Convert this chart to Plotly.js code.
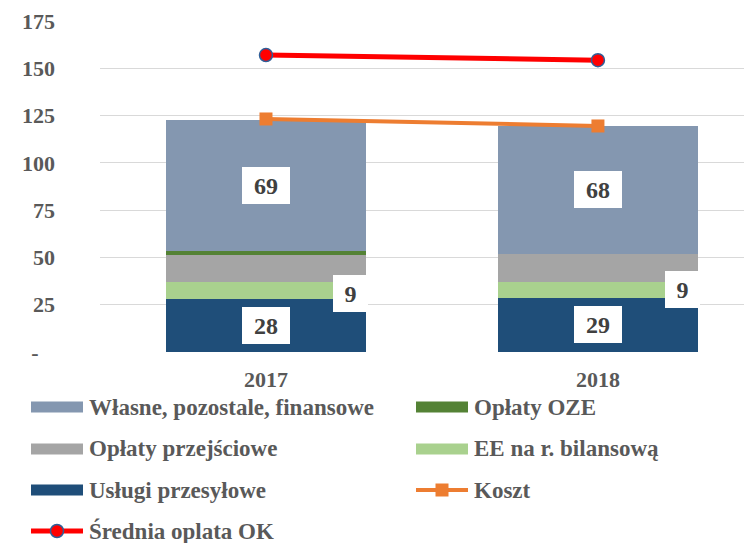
<!DOCTYPE html>
<html>
<head>
<meta charset="utf-8">
<script src="https://cdn.plot.ly/plotly-3.0.1.min.js"></script>
<style>html,body{margin:0;padding:0;background:#fff;}#chart{width:744px;height:543px;}</style>
</head>
<body>
<div id="chart"></div>
<script>
// ---- data ----
const categories = ['2017', '2018'];
const uslugiPrzesylowe = [27.8, 28.6];
const eeBilansowa = [9.0, 8.6];
const oplatyPrzejsciowe = [14.4, 14.6];
const oplatyOZE = [2.2, 0];
const wlasnePozostale = [69.4, 67.8];
const koszt = [123.2, 119.5];
const sredniaOplata = [157.0, 154.3];
const yTickVals = [0, 25, 50, 75, 100, 125, 150, 175];
const yTickText = ['-\u00a0\u00a0\u00a0', '25', '50', '75', '100', '125', '150', '175'];
const seriesNames = ['Własne, pozostale, finansowe', 'Opłaty OZE', 'Opłaty przejściowe',
  'EE na r. bilansową', 'Usługi przesyłowe', 'Koszt', 'Średnia oplata OK'];

// ---- styles ----
const FONT = '"Liberation Serif", "Times New Roman", serif';
const TXT = '#595959';
const C = {
  wlasne: '#8497b0', oze: '#548235', przej: '#a5a5a5', ee: '#a9d18e',
  uslugi: '#1f4e79', koszt: '#ed7d31', sred: '#ff0000', sredEdge: '#2e5f99'
};

const W = 744, H = 543;
const M = {l: 100, r: 0, t: 21, b: 191};
const plotW = W - M.l - M.r, plotH = H - M.t - M.b;
const px2x = p => (p - M.l) / plotW;
const py2y = p => (H - M.b - p) / plotH;

function bar(name, y, color) {
  return {type: 'bar', name: name, x: categories, y: y, marker: {color: color, line: {width: 0}},
    hoverinfo: 'skip', showlegend: false};
}

const traces = [
  bar(seriesNames[4], uslugiPrzesylowe, C.uslugi),
  bar(seriesNames[3], eeBilansowa, C.ee),
  bar(seriesNames[2], oplatyPrzejsciowe, C.przej),
  bar(seriesNames[1], oplatyOZE, C.oze),
  bar(seriesNames[0], wlasnePozostale, C.wlasne),
  {type: 'scatter', mode: 'lines+markers', name: seriesNames[5], x: categories, y: koszt,
    line: {color: C.koszt, width: 4}, marker: {symbol: 'square', size: 13, color: C.koszt},
    showlegend: false, hoverinfo: 'skip'},
  {type: 'scatter', mode: 'lines+markers', name: seriesNames[6], x: categories, y: sredniaOplata,
    line: {color: C.sred, width: 5}, marker: {symbol: 'circle', size: 13, color: C.sred,
    line: {color: C.sredEdge, width: 1.5}}, showlegend: false, hoverinfo: 'skip'}
];

// data labels (x given as category index)
const annotations = [];
const labelFont = {family: FONT, size: 24, color: '#404040'};
const boxStyle = {showarrow: false, bgcolor: '#ffffff', bordercolor: '#ffffff', borderwidth: 0, height: 35, font: labelFont};
categories.forEach((cat, i) => {
  const b1 = uslugiPrzesylowe[i];
  const b2 = b1 + eeBilansowa[i];
  const b4 = b2 + oplatyPrzejsciowe[i] + oplatyOZE[i];
  annotations.push(Object.assign({x: i, y: b1 / 2, width: 46,
    text: '<b>' + uslugiPrzesylowe[i].toFixed(0) + '</b>'}, boxStyle));
  annotations.push(Object.assign({x: i, y: b1 + eeBilansowa[i] / 2, width: 33, xshift: 85,
    yshift: i === 0 ? -3 : 0, text: '<b>' + eeBilansowa[i].toFixed(0) + '</b>'}, boxStyle));
  annotations.push(Object.assign({x: i, y: b4 + wlasnePozostale[i] / 2, width: 46,
    text: '<b>' + wlasnePozostale[i].toFixed(0) + '</b>'}, boxStyle));
});

// custom legend
const shapes = [];
const legendFont = {family: FONT, size: 23, color: TXT};
const legendItems = [
  {name: seriesNames[0], kind: 'bar', color: C.wlasne, col: 0, row: 0},
  {name: seriesNames[1], kind: 'bar', color: C.oze, col: 1, row: 0},
  {name: seriesNames[2], kind: 'bar', color: C.przej, col: 0, row: 1},
  {name: seriesNames[3], kind: 'bar', color: C.ee, col: 1, row: 1},
  {name: seriesNames[4], kind: 'bar', color: C.uslugi, col: 0, row: 2},
  {name: seriesNames[5], kind: 'koszt', color: C.koszt, col: 1, row: 2},
  {name: seriesNames[6], kind: 'sred', color: C.sred, col: 0, row: 3}
];
const colX = [31, 416];
const rowY = [407, 449, 490, 531];
const swW = 52;
legendItems.forEach(it => {
  const x0 = colX[it.col], yc = rowY[it.row];
  if (it.kind === 'bar') {
    shapes.push({type: 'rect', xref: 'paper', yref: 'paper', x0: px2x(x0), x1: px2x(x0 + swW),
      y0: py2y(yc + 5.5), y1: py2y(yc - 5.5), fillcolor: it.color, line: {width: 0}});
  } else {
    shapes.push({type: 'line', xref: 'paper', yref: 'paper', x0: px2x(x0), x1: px2x(x0 + swW),
      y0: py2y(yc), y1: py2y(yc), line: {color: it.color, width: it.kind === 'sred' ? 5 : 4}});
    const cx = x0 + swW / 2;
    if (it.kind === 'koszt') {
      shapes.push({type: 'rect', xref: 'paper', yref: 'paper', x0: px2x(cx - 6.5), x1: px2x(cx + 6.5),
        y0: py2y(yc + 6.5), y1: py2y(yc - 6.5), fillcolor: it.color, line: {width: 0}});
    } else {
      shapes.push({type: 'circle', xref: 'paper', yref: 'paper', x0: px2x(cx - 6.5), x1: px2x(cx + 6.5),
        y0: py2y(yc + 6.5), y1: py2y(yc - 6.5), fillcolor: it.color, line: {color: C.sredEdge, width: 1.5}});
    }
  }
  annotations.push({xref: 'paper', yref: 'paper', x: px2x(x0 + swW + 4), y: py2y(yc),
    xanchor: 'left', yanchor: 'middle', showarrow: false, text: '<b>' + it.name + '</b>', font: legendFont});
});

const layout = {
  width: W, height: H,
  margin: M,
  paper_bgcolor: '#ffffff', plot_bgcolor: '#ffffff',
  barmode: 'stack', bargap: 0.4,
  showlegend: false,
  font: {family: FONT, color: TXT},
  xaxis: {type: 'category', range: [-0.5, 1.44], showgrid: false, zeroline: false, showline: false,
    ticks: '', ticklabelstandoff: 12, tickfont: {family: FONT, size: 22, color: TXT, weight: 'bold'}},
  yaxis: {range: [0, 175], tickvals: yTickVals, ticktext: yTickText, showgrid: true,
    gridcolor: '#d9d9d9', gridwidth: 1, zeroline: false, showline: false, ticks: '',
    ticklabelstandoff: 44, tickfont: {family: FONT, size: 22, color: TXT, weight: 'bold'}},
  shapes: shapes,
  annotations: annotations
};

Plotly.newPlot('chart', traces, layout, {displayModeBar: false, staticPlot: true});
</script>
</body>
</html>
